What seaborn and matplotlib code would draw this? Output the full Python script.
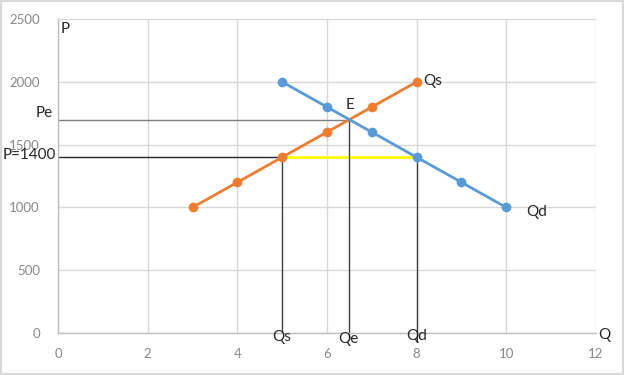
import matplotlib
matplotlib.use("Agg")
import matplotlib.pyplot as plt
import seaborn as sns
from matplotlib.patches import Rectangle

# demanda (azul) e oferta (laranja)
q_demand = [5, 6, 7, 8, 9, 10]
p_demand = [2000, 1800, 1600, 1400, 1200, 1000]
q_supply = [3, 4, 5, 6, 7, 8]
p_supply = [1000, 1200, 1400, 1600, 1800, 2000]

# equilibrio e preco fixado
q_eq, p_eq = 6.5, 1700
p_fixed = 1400
q_s_fixed, q_d_fixed = 5, 8

x_ticks = [0, 2, 4, 6, 8, 10, 12]
y_ticks = [0, 500, 1000, 1500, 2000, 2500]

sns.set_style("white")
plt.rcParams['font.family'] = ['Lato', 'DejaVu Sans']

fig = plt.figure(figsize=(6.24, 3.75), dpi=100)
ax = fig.add_axes([0.093, 0.112, 0.862, 0.837])

grid_c = "#d9d9d9"
ax.set_xlim(0, 12)
ax.set_ylim(0, 2500)
ax.set_xticks(x_ticks)
ax.set_yticks(y_ticks)
ax.grid(True, color=grid_c, linewidth=1)
ax.set_axisbelow(True)
for s in ["top", "right"]:
    ax.spines[s].set_visible(False)
for s in ["left", "bottom"]:
    ax.spines[s].set_color("#bfbfbf")
    ax.spines[s].set_linewidth(1)
ax.tick_params(axis="both", length=0, labelsize=9.5, labelcolor="#888888")
ax.tick_params(axis="x", pad=11)
ax.tick_params(axis="y", pad=13)

# linhas auxiliares
ax.plot([0, q_eq], [p_eq, p_eq], color="#7f7f7f", lw=1)
ax.plot([0, q_s_fixed], [p_fixed, p_fixed], color="#262626", lw=1)
ax.plot([q_s_fixed, q_d_fixed], [p_fixed, p_fixed], color="#ffff00", lw=2)
ax.plot([q_s_fixed, q_s_fixed], [p_fixed, 0], color="#404040", lw=1)
ax.plot([q_eq, q_eq], [p_eq, -50], color="#404040", lw=1, clip_on=False)
ax.plot([q_d_fixed, q_d_fixed], [p_fixed, -70], color="#404040", lw=1, clip_on=False)

sns.lineplot(x=q_supply, y=p_supply, ax=ax, color="#ED7D31", marker="o",
             markersize=7, markeredgewidth=0, linewidth=2)
sns.lineplot(x=q_demand, y=p_demand, ax=ax, color="#5B9BD5", marker="o",
             markersize=7, markeredgewidth=0, linewidth=2)

fs = 11
ax.text(0.05, 2480, "P", ha="left", va="top", fontsize=fs)
ax.text(12.05, -15, "Q", ha="left", va="center", fontsize=fs, clip_on=False)
ax.text(-0.12, 1750, "Pe", ha="right", va="center", fontsize=fs, clip_on=False)
ax.text(-0.04, 1415, "P=1400", ha="right", va="center", fontsize=fs, clip_on=False)
ax.text(6.52, 1760, "E", ha="center", va="bottom", fontsize=fs)
ax.text(8.15, 2010, "Qs", ha="left", va="center", fontsize=fs)
ax.text(10.45, 960, "Qd", ha="left", va="center", fontsize=fs)
ax.text(5.0, -35, "Qs", ha="center", va="center", fontsize=fs, clip_on=False)
ax.text(6.47, -45, "Qe", ha="center", va="center", fontsize=fs, clip_on=False)
ax.text(8.0, -25, "Qd", ha="center", va="center", fontsize=fs, clip_on=False)

# moldura cinza da figura
fig.patches.append(Rectangle((0.002, 0.003), 0.996, 0.994, transform=fig.transFigure,
                             fill=False, edgecolor="#d9d9d9", lw=1.5))

fig.savefig("out.png", dpi=100)
